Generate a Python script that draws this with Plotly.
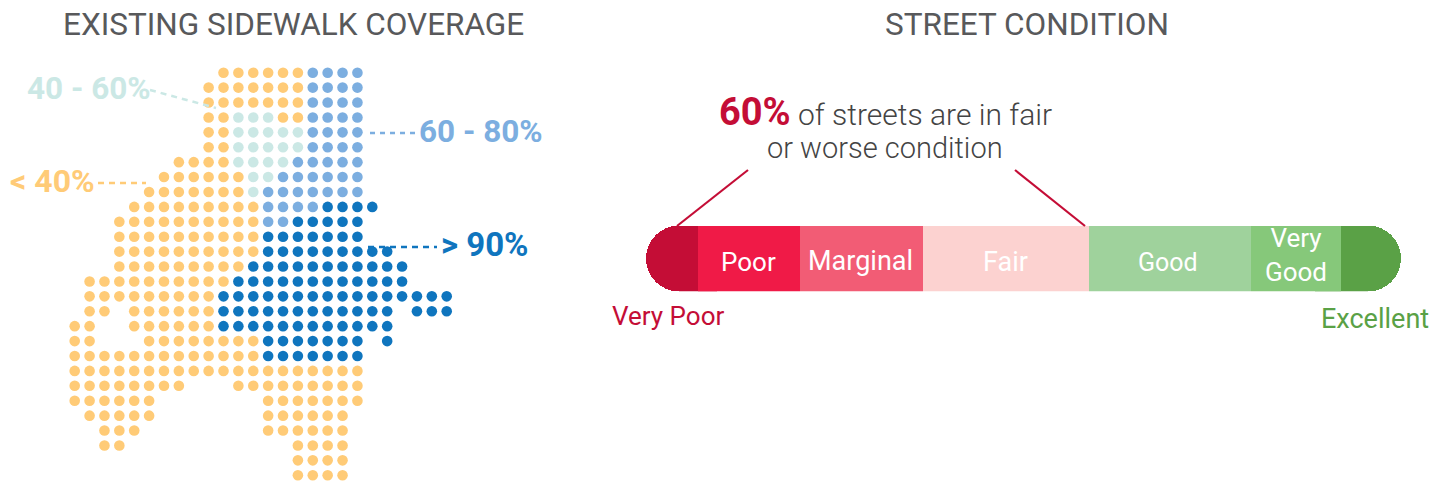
import plotly.graph_objects as go

# Dot-map grid: each band lists (row, first column, last column) runs of cells
low_runs = [(0,10,15),(1,9,15),(2,9,15),(3,9,10),(3,14,15),(4,9,10),(5,9,10),(6,7,10),(7,6,11),(8,5,11),
            (9,4,12),(10,3,12),(11,3,12),(12,3,12),(13,3,11),(14,1,10),(15,1,9),(16,1,2),(16,4,9),
            (17,0,1),(17,4,9),(18,0,1),(18,5,12),(19,0,12),(20,0,19),(21,0,7),(21,11,19),(22,0,5),
            (22,13,19),(23,1,5),(23,13,18),(24,2,4),(24,13,18),(25,2,3),(25,15,18),(26,15,18),(27,15,18)]
mid_runs = [(3,11,13),(4,11,15),(5,11,15),(6,11,14),(7,12,13),(8,12,12)]
high_runs = [(0,16,19),(1,16,19),(2,16,19),(3,16,19),(4,16,19),(5,16,19),(6,15,19),(7,14,19),(8,13,19),
             (9,13,16),(10,13,14)]
top_runs = [(9,17,20),(10,15,19),(11,13,19),(12,13,21),(13,12,22),(14,11,22),(15,10,25),(16,10,21),
            (16,23,25),(17,10,21),(18,13,19),(18,21,21),(19,13,19)]

band_names = ["< 40%", "40 - 60%", "60 - 80%", "> 90%"]
band_runs = [low_runs, mid_runs, high_runs, top_runs]
band_colors = ["#FFCB77", "#CBE8E5", "#7CAEE0", "#0F75BE"]

# Street condition shares (percent of the bar)
cond_names = ["Very Poor", "Poor", "Marginal", "Fair", "Good", "Very Good", "Excellent"]
cond_values = [6.9, 13.5, 16.3, 22.0, 21.4, 12.0, 7.9]
cond_colors = ["#C40D36", "#F01A47", "#F25C75", "#FCD2D0", "#9FD29C", "#86C87A", "#5AA146"]

FONT = "Roboto"
GREY = "#58595B"
W, H = 1441, 484

fig = go.Figure()

for name, runs, color in zip(band_names, band_runs, band_colors):
    xs, ys = [], []
    for row, a, b in runs:
        for c in range(a, b + 1):
            xs.append(c)
            ys.append(row)
    fig.add_trace(go.Scatter(x=xs, y=ys, mode="markers", name=name, showlegend=False, hoverinfo="skip",
                             marker=dict(size=10.6, color=color, line=dict(width=0))))

total = sum(cond_values)
n = len(cond_values)
starts = [sum(cond_values[:i]) for i in range(n)]

def add_bar(name, base, val, color, rad=0):
    fig.add_trace(go.Bar(y=["street"], x=[val], base=[base], orientation="h", xaxis="x2", yaxis="y2",
                         width=1, name=name, showlegend=False, hoverinfo="skip",
                         marker=dict(color=color, cornerradius=rad, line=dict(width=0))))

# The two ends are pills twice as long as their share; the inner half sits under the neighbouring segment
add_bar(cond_names[0], starts[0] + 2 * cond_values[0], -2 * cond_values[0], cond_colors[0], 33)
add_bar(cond_names[-1], starts[-1] - cond_values[-1], 2 * cond_values[-1], cond_colors[-1], 33)
for i in range(1, n - 1):
    add_bar(cond_names[i], starts[i], cond_values[i], cond_colors[i])

anns = []
def label(x, y, text, size, color, bold=False, weight=None):
    f = dict(family=FONT, size=size, color=color)
    if weight:
        f["weight"] = weight
    anns.append(dict(x=x / W, y=1 - y / H, xref="paper", yref="paper", text=f"<b>{text}</b>" if bold else text,
                     showarrow=False, xanchor="center", yanchor="middle", align="center", font=f))

label(293.5, 25, "EXISTING SIDEWALK COVERAGE", 31.5, GREY)
label(1027, 25, "STREET CONDITION", 31.5, GREY)
label(885, 112, '<span style="color:#C40D36;font-size:38px;font-weight:700">60%</span> of streets are in fair', 30, "#444444", weight=300)
label(885, 148, "or worse condition", 29, "#444444", weight=300)
label(88.5, 88, band_names[1], 31.5, band_colors[1], True)
label(481, 131, band_names[2], 31.5, band_colors[2], True)
label(52, 181, band_names[0], 32, band_colors[0], True)
label(484.5, 244, band_names[3], 33, band_colors[3], True)
label(667.5, 316, cond_names[0], 26, cond_colors[0])
label(1375, 319, cond_names[6], 27, cond_colors[6])
label(748, 262, cond_names[1], 26, "white")
label(860, 261, cond_names[2], 27, "white")
label(1005, 262, cond_names[3], 27, "#FFFFFF")
label(1168, 262, cond_names[4], 25, "white")
label(1296, 255, "Very<br>Good", 26, "white")

def seg(x0, y0, x1, y1, color, width=2, dash="dot"):
    return dict(type="line", xref="paper", yref="paper", x0=x0 / W, y0=1 - y0 / H, x1=x1 / W, y1=1 - y1 / H,
                line=dict(color=color, width=width, dash=dash))

shapes = [
    seg(150, 90, 216, 108, band_colors[1], 2.5, "6px,5px"),
    seg(370, 133, 416, 133, band_colors[2], 2.5, "5px,5px"),
    seg(98, 183, 146, 183, band_colors[0], 2.5, "6px,5px"),
    seg(368, 247, 437, 247, band_colors[3], 2.5, "6px,5px"),
    seg(748, 170, 677, 226, "#C40D36", 2.2, "solid"),
    seg(1015, 170, 1085, 226, "#C40D36", 2.2, "solid"),
]

fig.update_layout(
    width=W, height=H, autosize=False, margin=dict(l=0, r=0, t=0, b=0),
    paper_bgcolor="white", plot_bgcolor="rgba(0,0,0,0)",
    barmode="overlay", bargap=0, showlegend=False,
    annotations=anns, shapes=shapes,
    xaxis=dict(domain=[0, 0.5], range=[-74.7 / 14.88, (720.5 - 74.7) / 14.88], visible=False),
    yaxis=dict(domain=[0, 1], range=[(H - 72.7) / 14.91, -72.7 / 14.91], visible=False),
    xaxis2=dict(domain=[646 / W, 1401 / W], range=[0, total], visible=False, anchor="y2"),
    yaxis2=dict(domain=[1 - 291.3 / H, 1 - 225.5 / H], visible=False, anchor="x2", type="category"),
)

fig.write_html("out.html", config={"displayModeBar": False},
               post_script="document.body.style.margin='0';document.documentElement.style.overflow='hidden';")
